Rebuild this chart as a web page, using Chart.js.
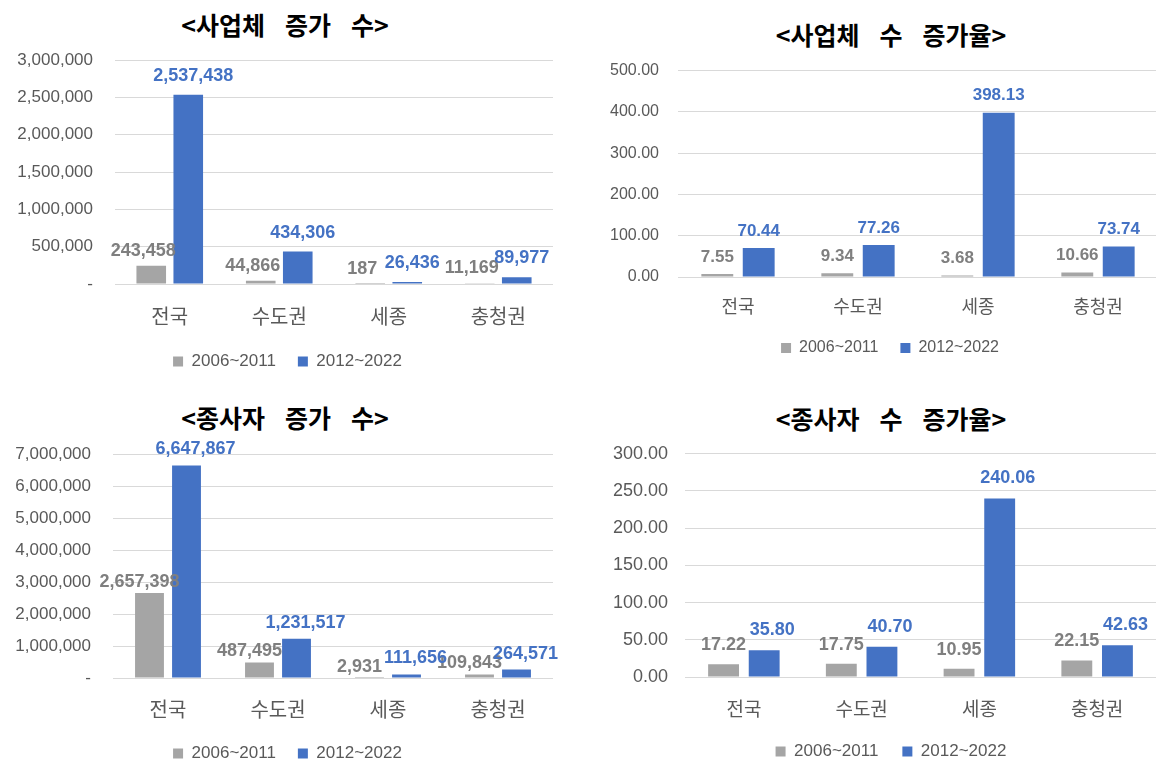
<!DOCTYPE html>
<html lang="ko">
<head>
<meta charset="utf-8">
<script src="https://cdn.jsdelivr.net/npm/chart.js@4"></script>
<style>
    html, body { margin: 0; padding: 0; background: #fff; }
    body { width: 1156px; height: 764px; overflow: hidden; position: relative; }
    .title {
        position: absolute; width: 400px; text-align: center;
        font-family: 'Noto Sans CJK KR', sans-serif; font-weight: 700;
        font-size: 25px; line-height: 30px; word-spacing: 13px; color: #000;
    }
    .box { position: absolute; }
</style>
</head>
<body>
<div class="title" style="left:85px;top:9px;">&lt;사업체 증가 수&gt;</div>
<div class="title" style="left:691px;top:19px;">&lt;사업체 수 증가율&gt;</div>
<div class="title" style="left:85px;top:402px;">&lt;종사자 증가 수&gt;</div>
<div class="title" style="left:691px;top:403px;">&lt;종사자 수 증가율&gt;</div>

<div class="box" style="left:0px;top:28px;width:580px;height:352px;"><canvas id="c1"></canvas></div>
<div class="box" style="left:590px;top:42px;width:600px;height:324px;"><canvas id="c2"></canvas></div>
<div class="box" style="left:0px;top:422px;width:580px;height:350px;"><canvas id="c3"></canvas></div>
<div class="box" style="left:590px;top:426px;width:600px;height:344px;"><canvas id="c4"></canvas></div>

<script>
// 지역 / 기간
const regions = ['전국', '수도권', '세종', '충청권'];
const periods = ['2006~2011', '2012~2022'];

// 사업체 증가 수
const bizCountOld = [243458, 44866, 187, 11169];
const bizCountNew = [2537438, 434306, 26436, 89977];

// 사업체 수 증가율
const bizRateOld = [7.55, 9.34, 3.68, 10.66];
const bizRateNew = [70.44, 77.26, 398.13, 73.74];

// 종사자 증가 수
const empCountOld = [2657398, 487495, 2931, 109843];
const empCountNew = [6647867, 1231517, 111656, 264571];

// 종사자 수 증가율
const empRateOld = [17.22, 17.75, 10.95, 22.15];
const empRateNew = [35.80, 40.70, 240.06, 42.63];

// y축 눈금 (최대값, 간격)
const bizCountTicks = [3000000, 500000];
const bizRateTicks = [500, 100];
const empCountTicks = [7000000, 1000000];
const empRateTicks = [300, 50];

const GRAY = '#a5a5a5';
const BLUE = '#4472c4';
const TICK_COLOR = '#595959';
const LATIN = "'Liberation Sans', 'Noto Sans CJK KR', sans-serif";

const fmtCount = v => v.toLocaleString('en-US');
const fmtRate = v => v.toFixed(2);

// 막대 위 값 표시
const valueLabels = {
    id: 'valueLabels',
    afterDatasetsDraw(chart, args, opts) {
        const ctx = chart.ctx;
        ctx.save();
        ctx.font = 'bold ' + opts.size + 'px ' + LATIN;
        ctx.textAlign = 'center';
        ctx.textBaseline = 'middle';
        chart.data.datasets.forEach((ds, i) => {
            const meta = chart.getDatasetMeta(i);
            ctx.fillStyle = opts.colors[i];
            meta.data.forEach((bar, j) => {
                ctx.fillText(opts.format(ds.data[j]), bar.x + opts.dx[i], bar.y - opts.dy[i]);
            });
        });
        ctx.restore();
    }
};

// 범례를 가로로 조금 옮김
const legendShift = {
    id: 'legendShift',
    afterLayout(chart, args, opts) {
        if (chart.legend) {
            chart.legend.left += opts.shift;
            chart.legend.right += opts.shift;
        }
    }
};

function makeChart(id, oldData, newData, ticks, fmt, look) {
    return new Chart(document.getElementById(id), {
        type: 'bar',
        data: {
            labels: regions,
            datasets: [
                { label: periods[0], data: oldData, backgroundColor: GRAY },
                { label: periods[1], data: newData, backgroundColor: BLUE },
            ],
        },
        options: {
            responsive: true,
            maintainAspectRatio: false,
            animation: false,
            categoryPercentage: look.cat,
            barPercentage: look.bar,
            layout: { padding: { top: 0, left: 0, right: look.pr, bottom: 0 } },
            scales: {
                x: {
                    grid: { display: false, drawTicks: false },
                    border: { display: false },
                    ticks: {
                        color: TICK_COLOR,
                        padding: look.xPad,
                        font: { family: "'Noto Sans CJK KR', sans-serif", size: look.xFont },
                    },
                    afterFit: s => { s.height = look.xH; },
                },
                y: {
                    min: 0,
                    max: ticks[0],
                    grid: { color: '#d9d9d9', drawTicks: false },
                    border: { display: false },
                    ticks: {
                        stepSize: ticks[1],
                        color: TICK_COLOR,
                        padding: look.yPad,
                        font: { family: LATIN, size: look.yFont },
                        callback: v => (fmt === fmtCount ? (v === 0 ? '-' : fmtCount(v)) : fmtRate(v)),
                    },
                    afterFit: s => { s.width = look.yW; },
                },
            },
            plugins: {
                legend: {
                    position: 'bottom',
                    labels: {
                        boxWidth: 10,
                        boxHeight: 10,
                        padding: look.legPad,
                        color: TICK_COLOR,
                        font: { family: LATIN, size: look.legFont },
                    },
                },
                legendShift: { shift: look.legShift },
                tooltip: { enabled: false },
                valueLabels: {
                    size: look.labFont,
                    colors: ['#7f7f7f', BLUE],
                    dx: look.dx,
                    dy: look.dy,
                    format: fmt,
                },
            },
        },
        plugins: [valueLabels, legendShift],
    });
}

makeChart('c1', bizCountOld, bizCountNew, bizCountTicks, fmtCount, {
    cat: 0.676, bar: 0.8, pr: 27, yW: 115, yPad: 22, xH: 47, xPad: 20, legShift: 11,
    xFont: 20, yFont: 17, legFont: 17, legPad: 22, labFont: 18, dx: [-8, 5], dy: [15, 19],
});

makeChart('c2', bizRateOld, bizRateNew, bizRateTicks, fmtRate, {
    cat: 0.69, bar: 0.77, pr: 32, yW: 88, yPad: 19, xH: 41, xPad: 18, legShift: 16,
    xFont: 18, yFont: 16, legFont: 16, legPad: 22, labFont: 17, dx: [0, 0], dy: [17, 17],
});

makeChart('c3', empCountOld, empCountNew, empCountTicks, fmtCount, {
    cat: 0.673, bar: 0.78, pr: 27, yW: 113, yPad: 22, xH: 45, xPad: 19, legShift: 11,
    xFont: 20, yFont: 17, legFont: 17, legPad: 22, labFont: 18, dx: [-10, 9], dy: [11, 16],
});

makeChart('c4', empRateOld, empRateNew, empRateTicks, fmtRate, {
    cat: 0.69, bar: 0.76, pr: 34, yW: 95, yPad: 17, xH: 42, xPad: 20, legShift: 18,
    xFont: 19, yFont: 18, legFont: 17, legPad: 24, labFont: 18, dx: [0, 8], dy: [19, 20],
});
</script>
</body>
</html>
